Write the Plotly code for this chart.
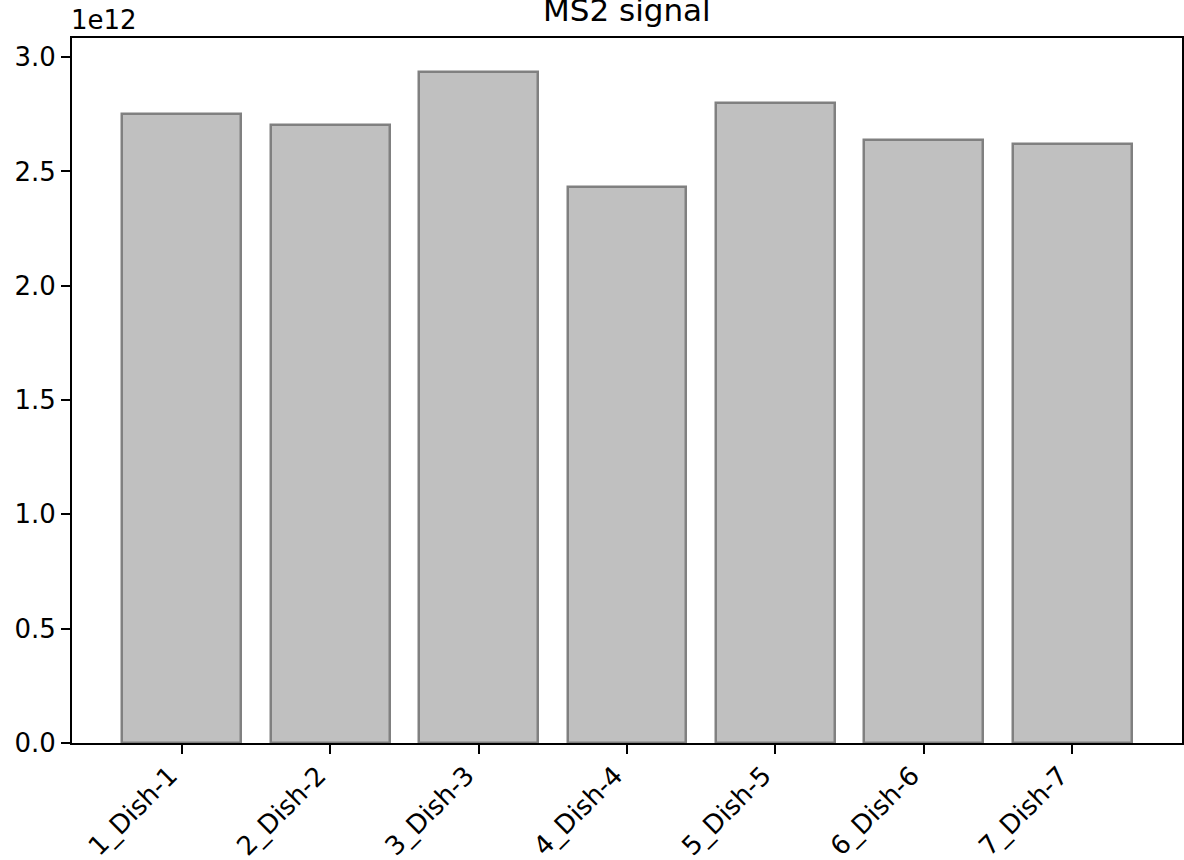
import plotly.graph_objects as go

categories = ["1_Dish-1", "2_Dish-2", "3_Dish-3", "4_Dish-4", "5_Dish-5", "6_Dish-6", "7_Dish-7"]
ms2_signal = [2.750e12, 2.704e12, 2.937e12, 2.432e12, 2.801e12, 2.637e12, 2.622e12]
y_tick_values = [0.0, 0.5e12, 1.0e12, 1.5e12, 2.0e12, 2.5e12, 3.0e12]
y_tick_labels = ["0.0", "0.5", "1.0", "1.5", "2.0", "2.5", "3.0"]

FONT = "DejaVu Sans"
TICK_PX = 26
TITLE_PX = 31

fig = go.Figure()
fig.add_trace(go.Bar(
    x=categories,
    y=ms2_signal,
    width=0.8,
    marker=dict(color="#c0c0c0", line=dict(color="#808080", width=2.5)),
))

ymax = max(ms2_signal) * 1.05

fig.update_layout(
    width=1184,
    height=860,
    margin=dict(l=72, r=1.5, t=38, b=117.3, pad=0, autoexpand=False),
    plot_bgcolor="white",
    paper_bgcolor="white",
    showlegend=False,
    font=dict(family=FONT, size=TICK_PX, color="black"),
    bargap=0,
)

fig.update_xaxes(
    type="category",
    range=[-0.74, 6.74],
    automargin=False,
    showline=True, linecolor="black", linewidth=2, mirror=True,
    ticks="outside", ticklen=9, tickwidth=2, tickcolor="black",
    tickangle=-45,
    ticklabelshift=-12,
    ticklabelstandoff=-4,
    tickfont=dict(family=FONT, size=TICK_PX, color="black"),
    showgrid=False, zeroline=False,
)
fig.update_yaxes(
    range=[0, ymax],
    automargin=False,
    tickvals=y_tick_values,
    ticktext=y_tick_labels,
    showline=True, linecolor="black", linewidth=2, mirror=True,
    ticks="outside", ticklen=9, tickwidth=2, tickcolor="black",
    tickfont=dict(family=FONT, size=TICK_PX, color="black"),
    showgrid=False, zeroline=False,
)

fig.add_annotation(
    text="MS2 signal", xref="paper", yref="paper", x=0.5, y=1,
    xanchor="center", yanchor="bottom", yshift=8, showarrow=False,
    font=dict(family=FONT, size=TITLE_PX, color="black"),
)
fig.add_annotation(
    text="1e12", xref="paper", yref="paper", x=0, y=1,
    xanchor="left", yanchor="bottom", xshift=-3, yshift=1, showarrow=False,
    font=dict(family=FONT, size=TICK_PX, color="black"),
)

fig.write_html(
    "out.html",
    config={"displayModeBar": False},
    post_script="document.body.style.margin='0';document.body.style.overflow='hidden';",
)
